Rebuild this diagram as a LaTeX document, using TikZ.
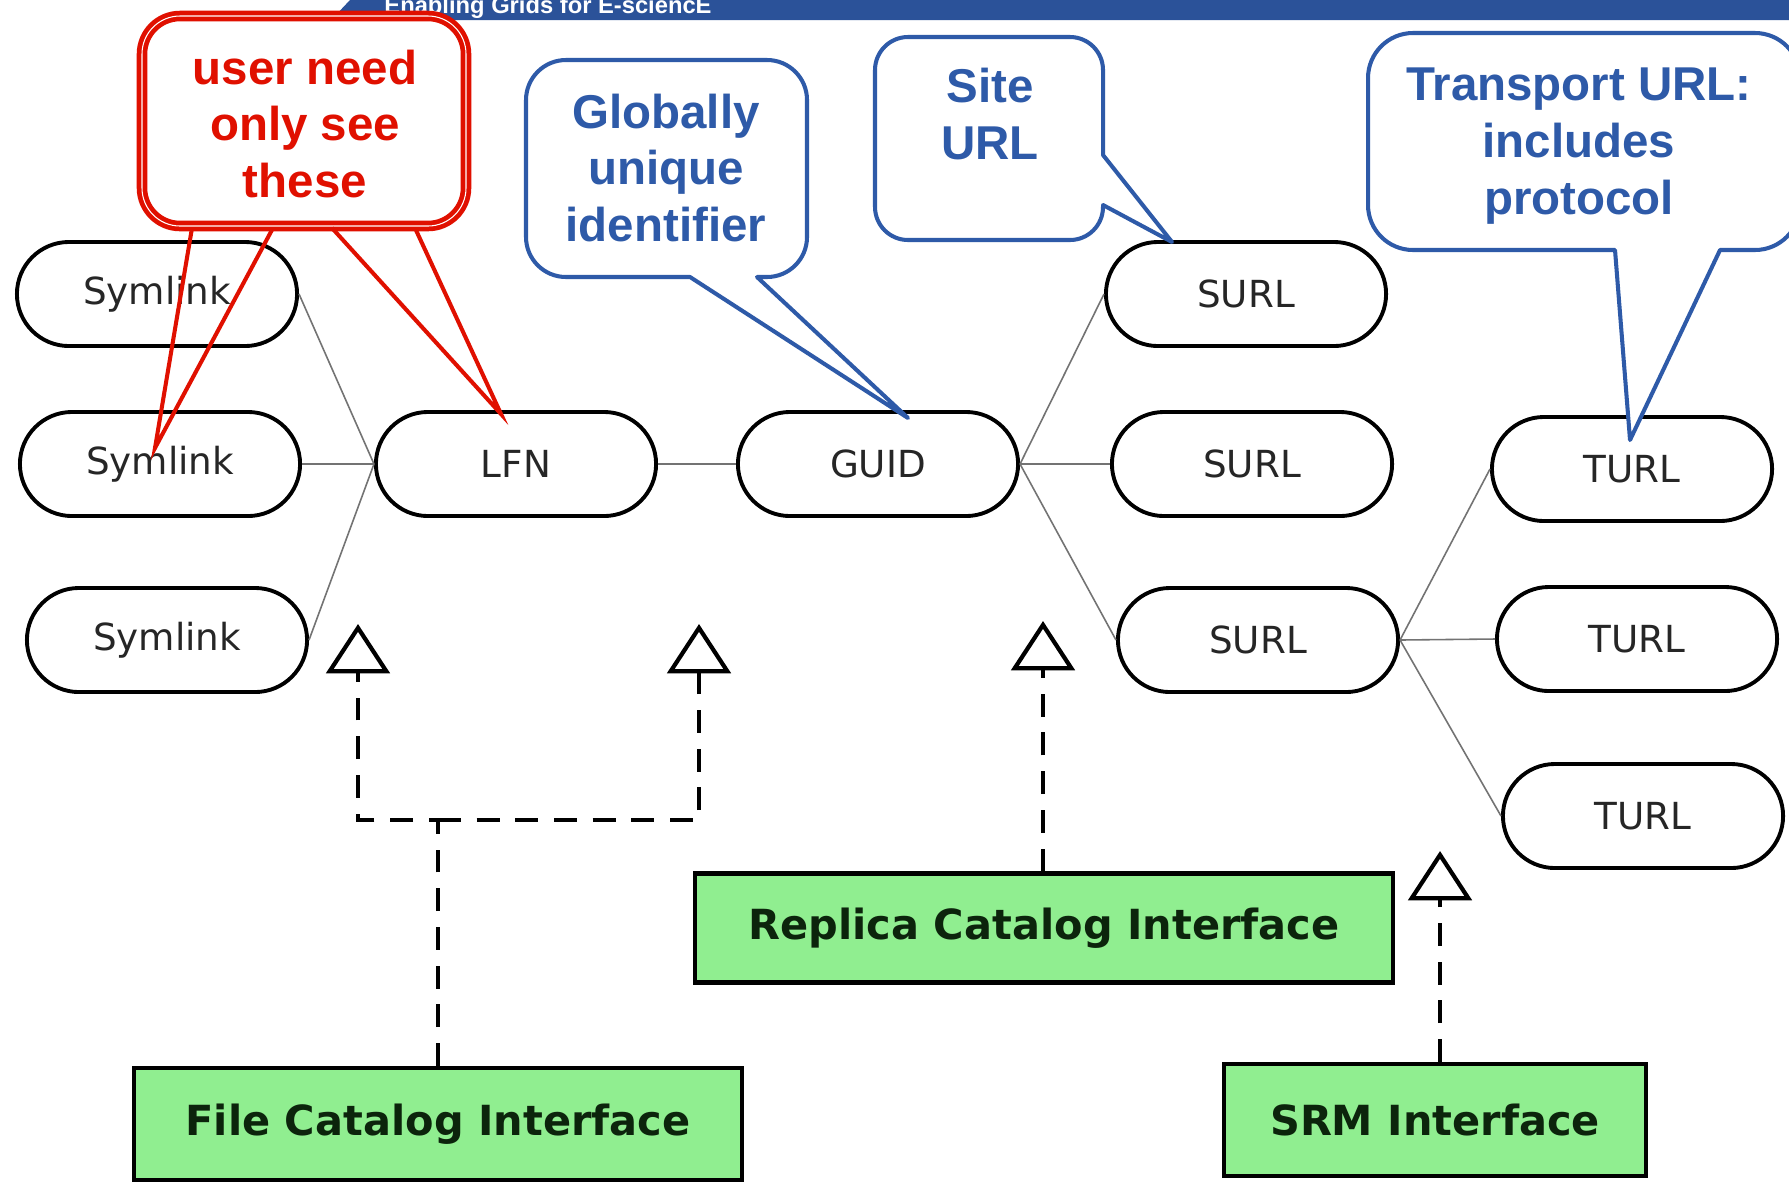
\documentclass[tikz,border=0pt]{standalone}
\usepackage{fontspec}
\setmainfont{DejaVu Sans}
\newfontfamily\notefont{Liberation Sans}
\usetikzlibrary{arrows.meta}
\definecolor{notered}{RGB}{224,16,0}
\definecolor{noteblue}{RGB}{46,90,168}
\definecolor{bannerblue}{RGB}{43,82,153}
\definecolor{ifgreen}{RGB}{144,238,144}
\definecolor{iftext}{RGB}{12,36,12}

\begin{document}
\begin{tikzpicture}[x=0.01cm, y=-0.01cm,
    entity/.style={draw, line width=1.1pt, rounded corners=0.52cm, minimum width=2.8cm, minimum height=1.04cm, inner sep=0pt, font=\fontsize{10.6}{12}\selectfont, text=black!85},
    iface/.style={draw, line width=1.2pt, fill=ifgreen, inner sep=0pt, font=\fontsize{11.8}{14}\selectfont\bfseries, text=iftext},
    link/.style={black!55, line width=0.45pt},
    realize/.style={line width=1.2pt, dash pattern=on 6.5pt off 4.5pt, -{Triangle[open, length=14pt, width=18pt]}},
    bluenote/.style={draw=noteblue, line width=1.15pt, fill=white, line join=round},
    redpen/.style={draw=notered, line width=1.15pt},
    notetext/.style={font=\notefont\fontsize{13.5}{16.2}\selectfont\bfseries, align=center, inner sep=0pt}]
    \fill[white] (0,0) rectangle (1789,1181);
    \useasboundingbox (0,0) rectangle (1789,1181);

    \fill[bannerblue] (350,0) -- (1789,0) -- (1789,20) -- (296,20) -- (296,17) -- (334,17) -- cycle;
    \node[anchor=base, text=white, inner sep=0pt, font=\notefont\fontsize{6.75}{8}\selectfont\bfseries] (banner) at (548,13) {Enabling Grids for E-sciencE};

    \node[entity] (sym1) at (157,294) {Symlink};
    \node[entity] (sym2) at (160,464) {Symlink};
    \node[entity] (sym3) at (167,640) {Symlink};
    \node[entity] (lfn) at (516,464) {LFN};
    \node[entity] (guid) at (878,464) {GUID};
    \node[entity] (surl1) at (1246,294) {SURL};
    \node[entity] (surl2) at (1252,464) {SURL};
    \node[entity] (surl3) at (1258,640) {SURL};
    \node[entity] (turl1) at (1632,469) {TURL};
    \node[entity] (turl2) at (1637,639) {TURL};
    \node[entity] (turl3) at (1643,816) {TURL};

    \foreach \s in {sym1,sym2,sym3} {\draw[link] (\s.east) -- (lfn.west);}
    \draw[link] (lfn.east) -- (guid.west);
    \foreach \s in {surl1,surl2,surl3} {\draw[link] (guid.east) -- (\s.west);}
    \foreach \t in {turl1,turl2,turl3} {\draw[link] (surl3.east) -- (\t.west);}

    \node[iface, minimum width=6.98cm, minimum height=1.09cm] (rci) at (1044,928) {Replica Catalog Interface};
    \node[iface, minimum width=6.07cm, minimum height=1.12cm] (fci) at (438,1124) {File Catalog Interface};
    \node[iface, minimum width=4.22cm, minimum height=1.12cm] (srm) at (1435,1120) {SRM Interface};

    \coordinate (fcup1) at (358,624);
    \coordinate (fcup2) at (699,624);
    \coordinate (rcup) at (1043,621);
    \coordinate (srmup) at (1440,851);
    \coordinate (fcjoin) at (438,820);
    \draw[realize] (fci.north) -- (fcjoin) -| (fcup1);
    \draw[realize] (fcjoin) -| (fcup2);
    \draw[realize] (rci.north -| rcup) -- (rcup);
    \draw[realize] (srm.north -| srmup) -- (srmup);

    \draw[redpen, line width=1.35pt, double=white, double distance=0.3pt, rounded corners=0.38cm] (142,16) rectangle (466,226);
    \coordinate (symtip) at (155,448);
    \coordinate (lfntip) at (501,414);
    \draw[redpen] (192,228) -- (symtip) -- (273,228);
    \draw[redpen] (332,228) -- (lfntip) -- (415,228);
    \node[notetext, text=notered] (usernote) at (305,124) {user need\\only see\\these};

    \coordinate (guidtip) at (908,418);
    \draw[bluenote] (guidtip) -- (757,277) [rounded corners=0.4cm] -- (807,277) -- (807,60) -- (526,60) -- (526,277) [sharp corners] -- (690,277) -- cycle;
    \node[notetext, text=noteblue] (guidnote) at (666,168) {Globally\\unique\\identifier};

    \coordinate (surltip) at (1172,242);
    \draw[bluenote] (surltip) -- (1103,205) [rounded corners=0.33cm] -- (1103,240) -- (875,240) -- (875,37) -- (1103,37) [sharp corners] -- (1103,155) -- cycle;
    \node[notetext, text=noteblue] (surlnote) at (990,114) {Site\\URL};

    \coordinate (turltip) at (1630,440);
    \draw[bluenote] (turltip) -- (1615,250) [rounded corners=0.45cm] -- (1368,250) -- (1368,33) -- (1800,33) -- (1800,250) [sharp corners] -- (1720,250) -- cycle;
    \node[notetext, text=noteblue] (turlnote) at (1579,146) {Transport URL:\\includes\\protocol};
\end{tikzpicture}
\end{document}
